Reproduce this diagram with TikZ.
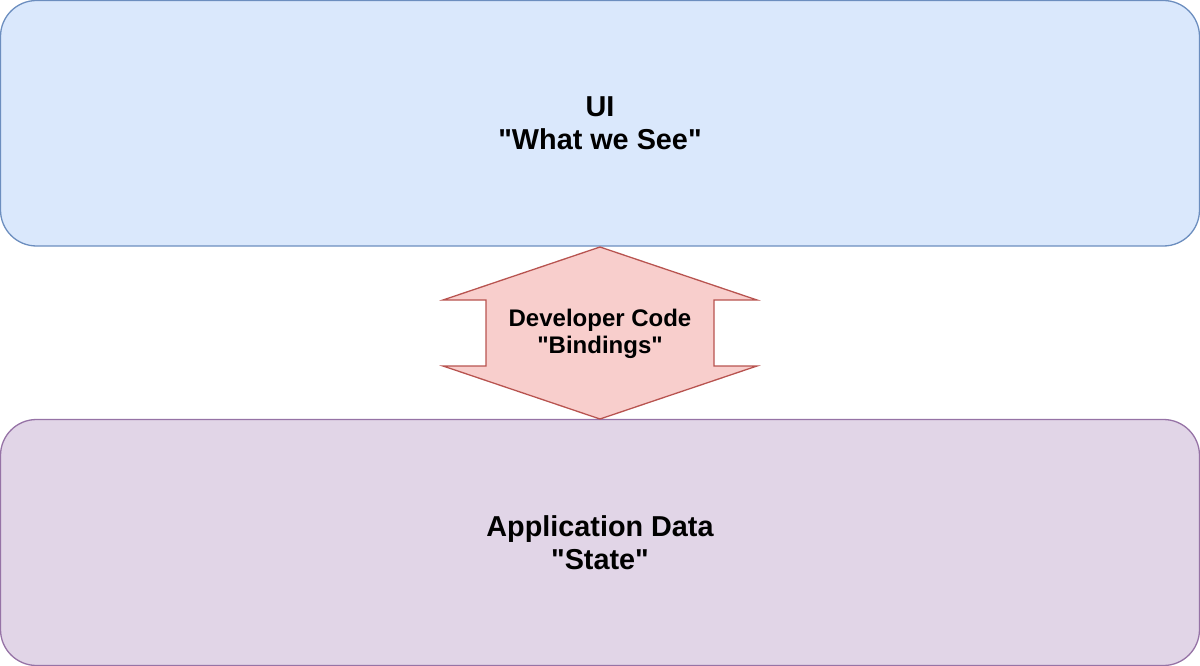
\documentclass[tikz,border=0pt]{standalone}
\usepackage{fontspec}
\setmainfont{Liberation Sans}
\newfontfamily\lsans{Liberation Sans}
\definecolor{uifill}{HTML}{DAE8FC}
\definecolor{uidraw}{HTML}{6C8EBF}
\definecolor{datafill}{HTML}{E1D5E7}
\definecolor{datadraw}{HTML}{9673A6}
\definecolor{arrfill}{HTML}{F8CECC}
\definecolor{arrdraw}{HTML}{B85450}
\tikzset{
  panel/.style={rounded corners=36pt, line width=1.3pt, minimum width=1199pt, inner sep=0pt, align=center, font=\lsans\fontsize{28.8}{33}\selectfont\bfseries},
  arrowshape/.style={fill=arrfill, draw=arrdraw, line width=1.3pt, line join=miter},
  arrowtext/.style={align=center, inner sep=0pt, font=\lsans\fontsize{24}{26.5}\selectfont\bfseries}
}
\begin{document}
\begin{tikzpicture}[x=1pt,y=-1pt]
\useasboundingbox (0,0) rectangle (1200,666);
\node[panel, fill=uifill, draw=uidraw, minimum height=245.5pt] (ui) at (600,123.25) {UI\\"What we See"};
\node[panel, fill=datafill, draw=datadraw, minimum height=246pt] (data) at (600,542.5) {Application Data\\"State"};
\coordinate (tipT) at (600,247);
\coordinate (tipB) at (600,419);
\draw[arrowshape] (tipT) -- (757,300) -- (714,300) -- (714,366) -- (757,366) -- (tipB) -- (443,366) -- (486,366) -- (486,300) -- (443,300) -- cycle;
\node[arrowtext] (code) at (600,334) {Developer Code\\"Bindings"};
\end{tikzpicture}
\end{document}
